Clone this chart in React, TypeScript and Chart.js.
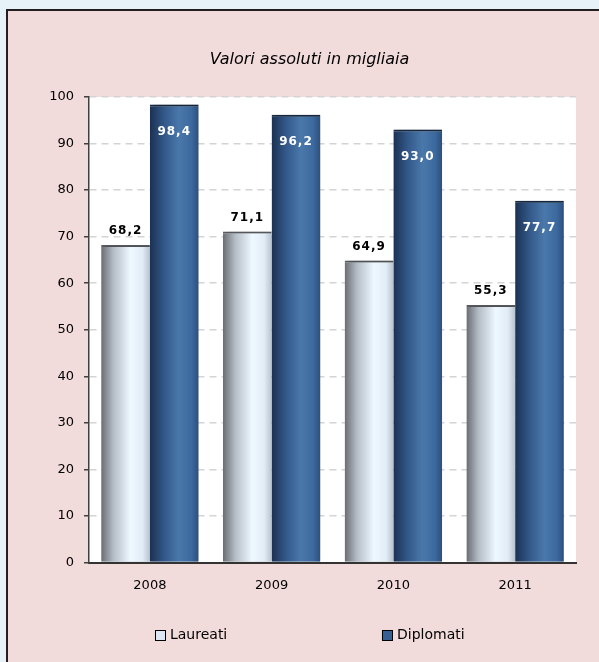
import { useEffect, useRef } from "react";
import { Chart, registerables } from "chart.js";

Chart.register(...registerables);

const title = "Valori assoluti in migliaia";
const years = ["2008", "2009", "2010", "2011"];
const seriesNames = ["Laureati", "Diplomati"];
const laureati = [68.2, 71.1, 64.9, 55.3];
const diplomati = [98.4, 96.2, 93.0, 77.7];
const yMin = 0;
const yMax = 100;
const yStep = 10;

const laureatiStops: [number, string][] = [
  [0, "#6a6d72"],
  [0.25, "#b4bcc6"],
  [0.6, "#eef8ff"],
  [0.85, "#e2ecf6"],
  [1, "#b9c3ce"],
];
const diplomatiStops: [number, string][] = [
  [0, "#1b3152"],
  [0.3, "#33598a"],
  [0.6, "#4a78ab"],
  [0.85, "#3d6a9e"],
  [1, "#2b4f80"],
];

const fmt = (v: number) => v.toFixed(1).replace(".", ",");

function barGradient(c: any, stops: [number, string][], fallback: string) {
  if (c.type !== "data") return fallback;
  const chart = c.chart;
  const x = chart.scales?.x;
  if (!x || !chart.chartArea || typeof c.dataIndex !== "number") return fallback;
  const center = x.getPixelForValue(c.dataIndex);
  const catW = (x.right - x.left) / years.length;
  const barW = (catW * 0.8) / 2;
  const left = c.datasetIndex === 0 ? center - barW : center;
  if (!isFinite(left)) return fallback;
  const g = chart.ctx.createLinearGradient(left, 0, left + barW, 0);
  stops.forEach(([o, col]) => g.addColorStop(o, col));
  return g;
}

const decorPlugin = {
  id: "decor",
  beforeDraw(chart: any) {
    const { ctx, chartArea: a } = chart;
    ctx.save();
    ctx.fillStyle = "#ffffff";
    ctx.fillRect(a.left, a.top, a.right - a.left, a.bottom - a.top);
    ctx.restore();
  },
  beforeDatasetsDraw(chart: any) {
    const ctx = chart.ctx;
    ctx.save();
    ctx.shadowColor = "rgba(0,0,0,0.35)";
    ctx.shadowBlur = 4;
    ctx.shadowOffsetX = 3;
    ctx.shadowOffsetY = 0;
  },
  afterDatasetsDraw(chart: any) {
    const ctx = chart.ctx;
    ctx.restore();
    ctx.save();
    ctx.font = "bold 12px 'DejaVu Sans'";
    ctx.textAlign = "center";
    ctx.textBaseline = "middle";
    try {
      (ctx as any).letterSpacing = "1px";
    } catch (e) {}
    chart.data.datasets.forEach((ds: any, di: number) => {
      const meta = chart.getDatasetMeta(di);
      meta.data.forEach((el: any, i: number) => {
        const v = ds.data[i];
        if (di === 0) {
          ctx.fillStyle = "#000000";
          ctx.fillText(fmt(v), el.x, el.y - 14);
        } else {
          ctx.fillStyle = "#ffffff";
          ctx.fillText(fmt(v), el.x, el.y + 27);
        }
      });
    });
    ctx.restore();
  },
  afterDraw(chart: any) {
    const { ctx, chartArea: a } = chart;
    ctx.save();
    // title
    ctx.font = "oblique 16px 'DejaVu Sans'";
    ctx.fillStyle = "#000000";
    ctx.textAlign = "center";
    ctx.textBaseline = "middle";
    ctx.fillText(title, chart.width / 2 + 10, 60);
    // legend
    const w = a.right - a.left;
    const starts = [0.1355, 0.6016];
    const fills = ["#dde7f3", "#365f93"];
    const legY = 635;
    ctx.font = "14px 'DejaVu Sans'";
    ctx.textAlign = "left";
    seriesNames.forEach((name, i) => {
      const x0 = a.left + starts[i] * w;
      ctx.fillStyle = fills[i];
      ctx.fillRect(x0, legY - 5, 10, 10);
      ctx.strokeStyle = "#000000";
      ctx.lineWidth = 1;
      ctx.strokeRect(x0 + 0.5, legY - 5 + 0.5, 10, 10);
      ctx.fillStyle = "#000000";
      ctx.fillText(name, x0 + 15, legY);
    });
    ctx.restore();
  },
};

export default function App() {
  const ref = useRef<HTMLCanvasElement | null>(null);

  useEffect(() => {
    if (!ref.current) return;
    const chart = new Chart(ref.current, {
      type: "bar",
      data: {
        labels: years,
        datasets: [
          {
            label: seriesNames[0],
            data: laureati,
            backgroundColor: (c: any) => barGradient(c, laureatiStops, "#dde7f3"),
            borderColor: "#5c5f63",
            borderWidth: { top: 2, left: 0, right: 0, bottom: 0 },
            categoryPercentage: 0.8,
            barPercentage: 1.0,
          },
          {
            label: seriesNames[1],
            data: diplomati,
            backgroundColor: (c: any) => barGradient(c, diplomatiStops, "#365f93"),
            borderColor: "#172a45",
            borderWidth: { top: 2, left: 0, right: 0, bottom: 0 },
            categoryPercentage: 0.8,
            barPercentage: 1.0,
          },
        ],
      },
      options: {
        responsive: false,
        animation: false,
        layout: { padding: { top: 97, right: 23, bottom: 69.5, left: 0 } },
        plugins: {
          legend: { display: false },
          title: { display: false },
          tooltip: { enabled: false },
        },
        scales: {
          x: {
            grid: { display: false, drawTicks: false },
            border: { display: true, color: "#333333", width: 2 },
            ticks: {
              color: "#000000",
              font: { family: "'DejaVu Sans'", size: 13 },
              padding: 15,
            },
            afterFit: (s: any) => {
              s.height = 30;
            },
          },
          y: {
            min: yMin,
            max: yMax,
            ticks: {
              stepSize: yStep,
              color: "#000000",
              font: { family: "'DejaVu Sans'", size: 13 },
              padding: 10,
            },
            grid: {
              color: "#d4d4d4",
              lineWidth: 1.5,
              tickLength: 5,
              tickColor: "#404040",
              tickWidth: 1.5,
              tickBorderDash: [],
            },
            border: { display: true, color: "#404040", width: 1.5, dash: [7, 5] },
            afterFit: (s: any) => {
              s.width = 89;
            },
          },
        },
      },
      plugins: [decorPlugin],
    });
    return () => chart.destroy();
  }, []);

  return (
    <div
      style={{
        position: "fixed",
        left: 0,
        top: 0,
        width: 599,
        height: 662,
        background: "#e6f1f8",
        overflow: "hidden",
      }}
    >
      <div
        style={{
          position: "absolute",
          left: 6,
          top: 9,
          right: 0,
          bottom: 0,
          background: "#f2dcdb",
          borderLeft: "2px solid #231f20",
          borderTop: "2px solid #231f20",
        }}
      />
      <canvas
        ref={ref}
        width={599}
        height={662}
        style={{ position: "absolute", left: 0, top: 0, width: 599, height: 662 }}
      />
    </div>
  );
}
